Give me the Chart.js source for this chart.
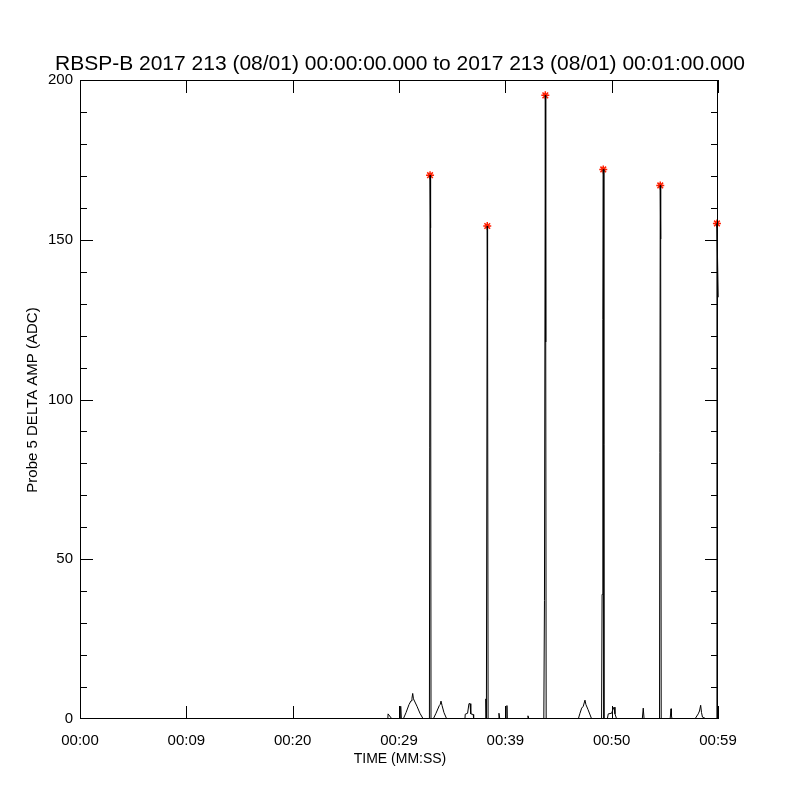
<!DOCTYPE html>
<html>
<head>
<meta charset="utf-8">
<script src="https://cdn.jsdelivr.net/npm/chart.js@4"></script>
<style>
  html, body { margin: 0; padding: 0; background: #fff; }
  #plot { display: block; }
</style>
</head>
<body>
<canvas id="plot" width="800" height="800"></canvas>
<script>
// --- data ---
const titleText = "RBSP-B 2017 213 (08/01) 00:00:00.000 to 2017 213 (08/01) 00:01:00.000";
const xTitle = "TIME (MM:SS)";
const yTitle = "Probe 5 DELTA AMP (ADC)";

const xTickLabels = ["00:00", "00:09", "00:20", "00:29", "00:39", "00:50", "00:59"];
const yTickLabels = ["0", "50", "100", "150", "200"];

// trace: seconds since start, amplitude
const traceTime = [
  0, 28.95, 28.97, 29.34, 30.10, 30.16, 30.22,
  30.40, 30.66, 30.94, 31.13, 31.22, 31.29, 31.36, 31.69, 31.97, 32.28,
  32.86, 32.92, 32.97, 33.01,
  33.22, 33.48, 33.79, 33.88, 33.95, 34.05, 34.23, 34.49,
  36.20, 36.23, 36.45, 36.58, 36.68, 36.75, 36.98, 37.02,
  38.14, 38.17, 38.22, 38.26, 38.30, 38.33, 38.38,
  39.33, 39.40, 39.48, 40.12, 40.15, 40.18, 42.04, 42.13, 42.22,
  43.62, 43.68, 43.76, 43.80, 43.84,
  46.86, 47.02, 47.18, 47.33, 47.49, 47.58, 47.77, 48.12,
  49.05, 49.10, 49.17, 49.21, 49.27,
  49.59, 49.68, 50.00, 50.12, 50.22, 50.31, 50.47,
  52.88, 52.97, 53.05,
  54.50, 54.57, 54.61, 54.66,
  55.50, 55.58, 55.62, 55.68,
  57.83, 58.14, 58.26, 58.37, 58.45, 58.54, 58.62, 58.68,
  59.84, 59.90, 60.02, 60.06
];
const traceAmp = [
  0, 0, 1.6, 0, 0, 4.0, 0,
  0, 2.0, 4.5, 5.7, 6.5, 8.0, 6.3, 4.0, 1.8, 0,
  0, 170.2, 153.7, 0,
  0, 1.8, 4.2, 4.6, 5.6, 4.2, 2.0, 0,
  0, 1.5, 1.8, 4.8, 4.8, 1.6, 1.4, 0,
  0, 6.3, 0, 0, 154.3, 131, 0,
  0, 1.8, 0, 0, 4.2, 0, 0, 1.0, 0,
  0, 37, 195.2, 118, 0,
  0, 1.8, 3.4, 4.0, 5.9, 4.5, 3.0, 0,
  0, 39, 125, 172.0, 0,
  0, 1.6, 1.8, 3.0, 3.7, 1.6, 0,
  0, 3.4, 0,
  0, 167.0, 150.2, 0,
  0, 3.2, 1.0, 0,
  0, 1.6, 2.5, 4.3, 2.0, 0.6, 0.5, 0,
  0, 155.1, 132, 0
];

// peak markers
const peakTime = [32.92, 38.30, 43.76, 49.21, 54.57, 59.90];
const peakAmp = [170.2, 154.3, 195.2, 172.0, 167.0, 155.1];

const box = { left: 80, top: 80, right: 718, bottom: 719 };
const FONT = "'Liberation Sans', Arial, sans-serif";

// inward IDL-style ticks, frame and titles
const idlFrame = {
  id: 'idlFrame',
  afterDraw(chart) {
    const { ctx, chartArea: a, scales: { x, y } } = chart;
    ctx.save();
    ctx.strokeStyle = '#000';
    ctx.lineWidth = 1;
    ctx.strokeRect(a.left + 0.5, a.top + 0.5, a.right - a.left - 1, a.bottom - a.top - 1);
    ctx.beginPath();
    for (let v = 0; v <= 60; v += 10) {
      const px = Math.round(x.getPixelForValue(v)) + 0.5;
      ctx.moveTo(px, a.top); ctx.lineTo(px, a.top + 13);
      ctx.moveTo(px, a.bottom); ctx.lineTo(px, a.bottom - 13);
    }
    for (let v = 10; v < 200; v += 10) {
      const len = v % 50 === 0 ? 13 : 7;
      const py = Math.round(y.getPixelForValue(v)) + 0.5;
      ctx.moveTo(a.left, py); ctx.lineTo(a.left + len, py);
      ctx.moveTo(a.right, py); ctx.lineTo(a.right - len, py);
    }
    ctx.stroke();

    ctx.fillStyle = '#000';
    ctx.textAlign = 'center';
    ctx.textBaseline = 'middle';
    ctx.font = '21px ' + FONT;
    ctx.fillText(titleText, 400, 64);
    ctx.font = '14px ' + FONT;
    ctx.fillText(xTitle, 400, 759);
    ctx.translate(33, 400);
    ctx.rotate(-Math.PI / 2);
    ctx.font = '15px ' + FONT;
    ctx.fillText(yTitle, 0, 0);
    ctx.restore();
  }
};

new Chart(document.getElementById('plot'), {
  type: 'line',
  data: {
    datasets: [
      {
        data: traceTime.map((t, i) => ({ x: t, y: traceAmp[i] })),
        borderColor: '#000',
        borderWidth: 1,
        pointRadius: 0,
        tension: 0,
        clip: { left: 0, top: 0, right: 3, bottom: 0 }
      },
      {
        data: peakTime.map((t, i) => ({ x: t, y: peakAmp[i] })),
        showLine: false,
        pointStyle: 'star',
        pointRadius: 4,
        borderColor: 'rgb(255,30,0)',
        borderWidth: 1.5,
        clip: false
      }
    ]
  },
  options: {
    responsive: false,
    animation: false,
    layout: { padding: { top: box.top, right: 800 - box.right, left: 0, bottom: 0 } },
    plugins: { legend: { display: false }, tooltip: { enabled: false } },
    scales: {
      x: {
        type: 'linear', min: 0, max: 60,
        grid: { display: false, drawTicks: false },
        border: { display: false },
        afterFit(s) { s.height = 800 - box.bottom; },
        ticks: {
          stepSize: 10, padding: 13, maxRotation: 0,
          color: '#000', font: { family: FONT, size: 15 },
          callback: (v, i) => xTickLabels[i]
        }
      },
      y: {
        min: 0, max: 200,
        grid: { display: false, drawTicks: false },
        border: { display: false },
        afterFit(s) { s.width = box.left; },
        ticks: {
          stepSize: 50, padding: 7,
          color: '#000', font: { family: FONT, size: 15 },
          callback: (v, i) => yTickLabels[i]
        }
      }
    }
  },
  plugins: [idlFrame]
});
</script>
</body>
</html>
